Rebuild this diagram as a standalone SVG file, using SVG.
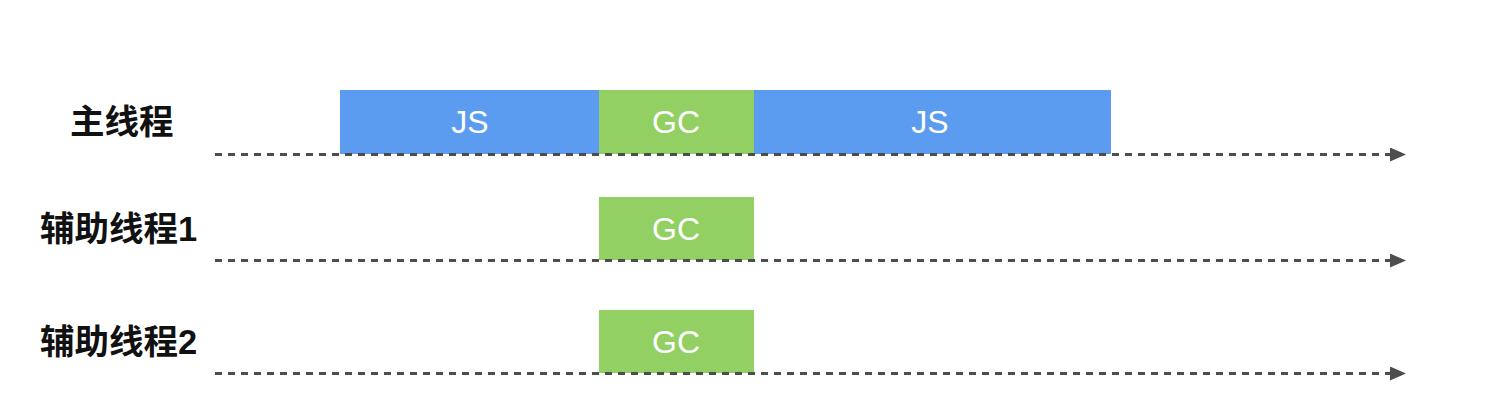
<svg xmlns="http://www.w3.org/2000/svg" width="1502" height="418" viewBox="0 0 1502 418">
<defs>
<style>
.lbl{font-family:"Liberation Sans","Noto Sans CJK SC",sans-serif;font-weight:bold;font-size:34.5px;fill:#111}
.bt{font-family:"Liberation Sans",Arial,sans-serif;font-size:32px;fill:#fff;text-anchor:middle;dominant-baseline:central}
.js{fill:#5b9cf0}
.gc{fill:#93d064}
.ln{stroke:#4d4d4d;stroke-width:3;stroke-dasharray:7 6;fill:none}
</style>
<marker id="ah" markerWidth="16" markerHeight="14" refX="0" refY="7" orient="auto" markerUnits="userSpaceOnUse">
<path d="M0,0 L16,7 L0,14 Z" fill="#4d4d4d"/>
</marker>
</defs>
<rect width="1502" height="418" fill="#fff"/>
<g id="label-main"><text class="lbl" x="70" y="134">主线程</text></g>
<g id="label-h1"><text class="lbl" x="40" y="241">辅助线程1</text></g>
<g id="label-h2"><text class="lbl" x="40" y="354">辅助线程2</text></g>
<g id="main-js1"><rect class="js" x="340" y="90" width="259" height="64"/><text class="bt" x="470" y="122">JS</text></g>
<g id="main-gc"><rect class="gc" x="599" y="90" width="155" height="64"/><text class="bt" x="676" y="122">GC</text></g>
<g id="main-js2"><rect class="js" x="754" y="90" width="357" height="64"/><text class="bt" x="930" y="122">JS</text></g>
<g id="h1-gc"><rect class="gc" x="599" y="197" width="155" height="63"/><text class="bt" x="676" y="229">GC</text></g>
<g id="h2-gc"><rect class="gc" x="599" y="310" width="155" height="63"/><text class="bt" x="676" y="342">GC</text></g>
<g id="connectors">
<line class="ln" x1="215" y1="154.5" x2="1390" y2="154.5" marker-end="url(#ah)"/>
<line class="ln" x1="215" y1="260.5" x2="1390" y2="260.5" marker-end="url(#ah)"/>
<line class="ln" x1="215" y1="373.5" x2="1390" y2="373.5" marker-end="url(#ah)"/>
</g>
</svg>
